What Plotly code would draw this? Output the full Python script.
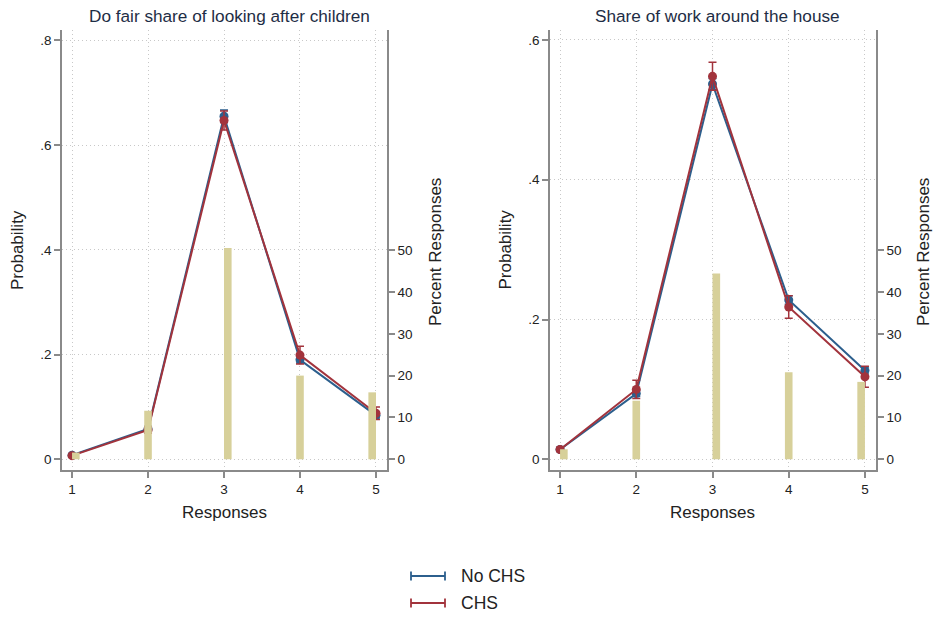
import plotly.graph_objects as go

responses = [1, 2, 3, 4, 5]

# Panel 1: Do fair share of looking after children
p1_nochs = [0.008, 0.058, 0.655, 0.190, 0.084]
p1_nochs_err = [0.002, 0.005, 0.012, 0.006, 0.005]
p1_chs = [0.007, 0.056, 0.647, 0.199, 0.088]
p1_chs_err = [0.002, 0.006, 0.018, 0.017, 0.012]
p1_pct = [1.6, 11.6, 50.5, 20.0, 16.0]

# Panel 2: Share of work around the house
p2_nochs = [0.014, 0.094, 0.537, 0.228, 0.127]
p2_nochs_err = [0.002, 0.004, 0.008, 0.006, 0.005]
p2_chs = [0.014, 0.100, 0.548, 0.218, 0.118]
p2_chs_err = [0.003, 0.013, 0.020, 0.016, 0.015]
p2_pct = [2.4, 14.0, 44.4, 20.8, 18.5]

titles = ["Do fair share of looking after children", "Share of work around the house"]
series_names = ["No CHS", "CHS"]
p1_yticks = [0, 0.2, 0.4, 0.6, 0.8]
p1_ylabels = ["0", ".2", ".4", ".6", ".8"]
p2_yticks = [0, 0.2, 0.4, 0.6]
p2_ylabels = ["0", ".2", ".4", ".6"]
pct_ticks = [0, 10, 20, 30, 40, 50]

BLUE = "#2c5f8d"
RED = "#a2333c"
KHAKI = "#d7d09a"
FONT = "Liberation Sans, Arial, sans-serif"
AX = "#8a8a8a"
GRID = "#c8c8c8"
W, H = 934, 618

BAR_W = 0.1
bar_offsets = [0, -BAR_W / 2, 0, -BAR_W / 2, -BAR_W]

fig = go.Figure()


def add_panel(xa, ya, ya2, nochs, nochs_err, chs, chs_err, pct):
    for name, vals, errs, col in [(series_names[0], nochs, nochs_err, BLUE),
                                  (series_names[1], chs, chs_err, RED)]:
        fig.add_trace(go.Scatter(
            x=responses, y=vals, mode="lines+markers", name=name,
            line=dict(color=col, width=2), marker=dict(color=col, size=9),
            error_y=dict(type="data", array=errs, visible=True, color=col, thickness=1.5, width=4),
            xaxis=xa, yaxis=ya, showlegend=False))
    fig.add_trace(go.Bar(
        x=responses, y=pct, width=BAR_W, offset=bar_offsets,
        marker=dict(color=KHAKI, line=dict(width=0)),
        xaxis=xa, yaxis=ya2, showlegend=False))


add_panel("x", "y", "y2", p1_nochs, p1_nochs_err, p1_chs, p1_chs_err, p1_pct)
add_panel("x2", "y3", "y4", p2_nochs, p2_nochs_err, p2_chs, p2_chs_err, p2_pct)

dom_y = [1 - 470 / H, 1 - 30 / H]
dom_x1 = [62 / W, 387 / W]
dom_x2 = [550 / W, 876 / W]

tickfont = dict(family=FONT, size=13.5, color="#222")

xcommon = dict(range=[0.868, 5.145], tickvals=responses, ticktext=[str(r) for r in responses],
               showline=True, linecolor=AX, linewidth=1.5, ticks="outside", ticklen=6,
               tickcolor=AX, tickwidth=1.5, showgrid=True, gridcolor=GRID, griddash="1px,3px",
               gridwidth=1, zeroline=False, tickfont=tickfont, fixedrange=True)


def ycommon(rng, tv, tt):
    return dict(range=rng, tickvals=tv, ticktext=tt, showline=True, linecolor=AX, linewidth=1.5,
                ticks="outside", ticklen=6, tickcolor=AX, tickwidth=1.5, showgrid=True,
                gridcolor=GRID, griddash="1px,3px", gridwidth=1, zeroline=False, tickfont=tickfont)


def y2common(over, anchor):
    return dict(overlaying=over, side="right", anchor=anchor, range=[-2.56, 102.6],
                tickvals=pct_ticks, showline=True, linecolor=AX, linewidth=1.5,
                ticks="outside", ticklen=6, tickcolor=AX, tickwidth=1.5, showgrid=False,
                zeroline=False, tickfont=tickfont)


fig.update_layout(
    width=W, height=H, margin=dict(l=0, r=0, t=0, b=0, autoexpand=False),
    paper_bgcolor="white", plot_bgcolor="white",
    font=dict(family=FONT, color="#222"),
    xaxis=dict(domain=dom_x1, anchor="y", **xcommon),
    yaxis=dict(domain=dom_y, anchor="x", **ycommon([-0.0204, 0.8197], p1_yticks, p1_ylabels)),
    yaxis2=y2common("y", "x"),
    xaxis2=dict(domain=dom_x2, anchor="y3", **xcommon),
    yaxis3=dict(domain=dom_y, anchor="x2", **ycommon([-0.0153, 0.6143], p2_yticks, p2_ylabels)),
    yaxis4=y2common("y3", "x2"),
    barmode="overlay",
    showlegend=False,
)

ann = []
shapes = []
for cx, t in [(229, titles[0]), (717, titles[1])]:
    ann.append(dict(x=cx / W, y=1 - 16 / H, xref="paper", yref="paper", text=t, showarrow=False,
                    font=dict(family=FONT, size=17.2, color="#1e2d45"), xanchor="center", yanchor="middle"))
for cx in [224.5, 712.5]:
    ann.append(dict(x=cx / W, y=1 - 512 / H, xref="paper", yref="paper", text="Responses",
                    showarrow=False, font=dict(family=FONT, size=17, color="#222"),
                    xanchor="center", yanchor="middle"))
for cx in [18, 505.5]:
    ann.append(dict(x=cx / W, y=1 - 250 / H, xref="paper", yref="paper", text="Probability",
                    showarrow=False, textangle=-90, font=dict(family=FONT, size=17, color="#222"),
                    xanchor="center", yanchor="middle"))
for cx in [435, 923]:
    ann.append(dict(x=cx / W, y=1 - 252 / H, xref="paper", yref="paper", text="Percent Responses",
                    showarrow=False, textangle=-90, font=dict(family=FONT, size=17, color="#222"),
                    xanchor="center", yanchor="middle"))

# legend (line with error-bar caps + label)
for name, col, ly in [(series_names[0], BLUE, 576), (series_names[1], RED, 603)]:
    y0 = 1 - ly / H
    shapes.append(dict(type="line", xref="paper", yref="paper", x0=411 / W, x1=445 / W, y0=y0, y1=y0,
                       line=dict(color=col, width=2.2)))
    for ex in (411, 445):
        shapes.append(dict(type="line", xref="paper", yref="paper", x0=ex / W, x1=ex / W,
                           y0=1 - (ly - 4.5) / H, y1=1 - (ly + 4.5) / H, line=dict(color=col, width=1.8)))
    ann.append(dict(x=459 / W, y=y0, xref="paper", yref="paper", text=name, showarrow=False,
                    font=dict(family=FONT, size=17.5, color="#222"), xanchor="left", yanchor="middle"))

fig.update_layout(annotations=ann, shapes=shapes)

fig.write_html("out.html", config={"displayModeBar": False},
               post_script="document.body.style.margin='0';document.body.style.overflow='hidden';")
